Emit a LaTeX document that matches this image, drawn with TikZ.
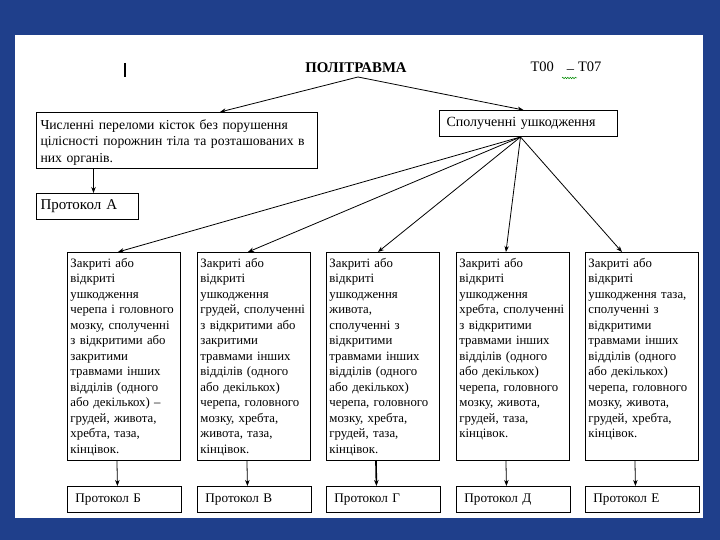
\documentclass[tikz,border=0pt]{standalone}
\usepackage{fontspec}
\setmainfont{Liberation Serif}
\usetikzlibrary{arrows.meta,calc,decorations.pathmorphing}
\definecolor{slideblue}{RGB}{31,63,139}

\begin{document}
\begin{tikzpicture}[x=1pt, y=-1pt, >={Stealth[length=6pt,width=4.5pt]},
    box/.style={draw, line width=1pt, anchor=north west, align=left, inner ysep=4pt},
    colbox/.style={draw, line width=0.9pt, anchor=north west, text width=107pt, inner xsep=3pt, inner ysep=4pt,
      text height=11pt, text depth=189pt, align=left, font=\fontsize{12.8}{15.5}\selectfont},
    protbox/.style={draw, line width=0.9pt, anchor=north west, text width=98pt, inner xsep=8pt, inner ysep=0pt,
      minimum height=26pt, align=left, font=\fontsize{13.2}{15}\selectfont},
    link/.style={->, line width=0.8pt}]
    \useasboundingbox (0,0) rectangle (720,540);
    \fill[slideblue] (0,0) rectangle (720,540);
    \fill[white] (15,35) rectangle (703,518);
    % header
    \draw[line width=1.2pt] (125,63) -- (125,77);
    \node[font=\fontsize{14.8}{17}\selectfont\bfseries] (title) at (356,68) {ПОЛІТРАВМА};
    \node[font=\fontsize{14.5}{16}\selectfont] (code) at (566,68) {Т00\hspace{13pt}\raisebox{-2pt}{–}\hspace{4pt}Т07};
    \draw[green!55!black, line width=0.5pt, decorate, decoration={snake, amplitude=0.7pt, segment length=2.5pt}] (562,78) -- (577,78);
    \coordinate (apex) at (358,77);
    % first level
    \node[box, text width=273pt, inner xsep=4pt, text height=13pt, text depth=35pt,
      font=\fontsize{13.7}{16.5}\selectfont] (many) at (36,112)
      {Численні переломи кісток без порушення\\ цілісності порожнин тіла та розташованих в\\ них органів.};
    \node[box, text width=94pt, inner xsep=4pt, inner ysep=0pt, minimum height=26pt,
      font=\fontsize{15}{17}\selectfont] (pA) at (36,193) {Протокол А};
    \node[box, text width=164pt, inner xsep=7pt, inner ysep=0pt, minimum height=26pt,
      font=\fontsize{14}{16}\selectfont] (comb) at (439,110) {Сполученні ушкодження};
    \draw[link] (apex) -- ([xshift=43pt]many.north);
    \draw[link] (apex) -- ([xshift=-5pt]comb.north);
    \coordinate (arrA) at ([xshift=6pt]pA.north);
    \draw[link] (many.south -| arrA) -- (arrA);
    % columns
    \node[colbox] (c1) at (67,252) {Закриті або\\ відкриті\\ ушкодження\\ черепа і головного\\ мозку, сполученні\\
      з відкритими або\\ закритими\\ травмами інших\\ відділів (одного\\ або декількох) –\\ грудей, живота,\\ хребта, таза,\\ кінцівок.};
    \node[colbox] (c2) at (197,252) {Закриті або\\ відкриті\\ ушкодження\\ грудей, сполученні\\ з відкритими або\\
      закритими\\ травмами інших\\ відділів (одного\\ або декількох)\\ черепа, головного\\ мозку, хребта,\\ живота, таза,\\ кінцівок.};
    \node[colbox] (c3) at (326,252) {Закриті або\\ відкриті\\ ушкодження\\ живота,\\ сполученні з\\ відкритими\\
      травмами інших\\ відділів (одного\\ або декількох)\\ черепа, головного\\ мозку, хребта,\\ грудей, таза,\\ кінцівок.};
    \node[colbox] (c4) at (456,252) {Закриті або\\ відкриті\\ ушкодження\\ хребта, сполученні\\ з відкритими\\
      травмами інших\\ відділів (одного\\ або декількох)\\ черепа, головного\\ мозку, живота,\\ грудей, таза,\\ кінцівок.};
    \node[colbox] (c5) at (585,252) {Закриті або\\ відкриті\\ ушкодження таза,\\ сполученні з\\ відкритими\\
      травмами інших\\ відділів (одного\\ або декількох)\\ черепа, головного\\ мозку, живота,\\ грудей, хребта,\\ кінцівок.};
    % protocols
    \foreach \i/\x/\t in {1/67/Б, 2/197/В, 3/326/Г, 4/456/Д, 5/585/Е}
      \node[protbox] (p\i) at (\x,486) {Протокол \t};
    \coordinate (fan) at ([xshift=-8pt]comb.south);
    \foreach \i/\s in {1/-6, 2/-6, 3/-5, 4/-7, 5/-20}
      \draw[link] (fan) -- ([xshift=\s pt]c\i.north);
    \foreach \i/\w in {1/0.8, 2/0.8, 3/1.6, 4/0.8, 5/0.8}
      \draw[link, line width=\w pt] ([xshift=-7pt]c\i.south) -- ([xshift=-7pt]p\i.north);
\end{tikzpicture}
\end{document}
